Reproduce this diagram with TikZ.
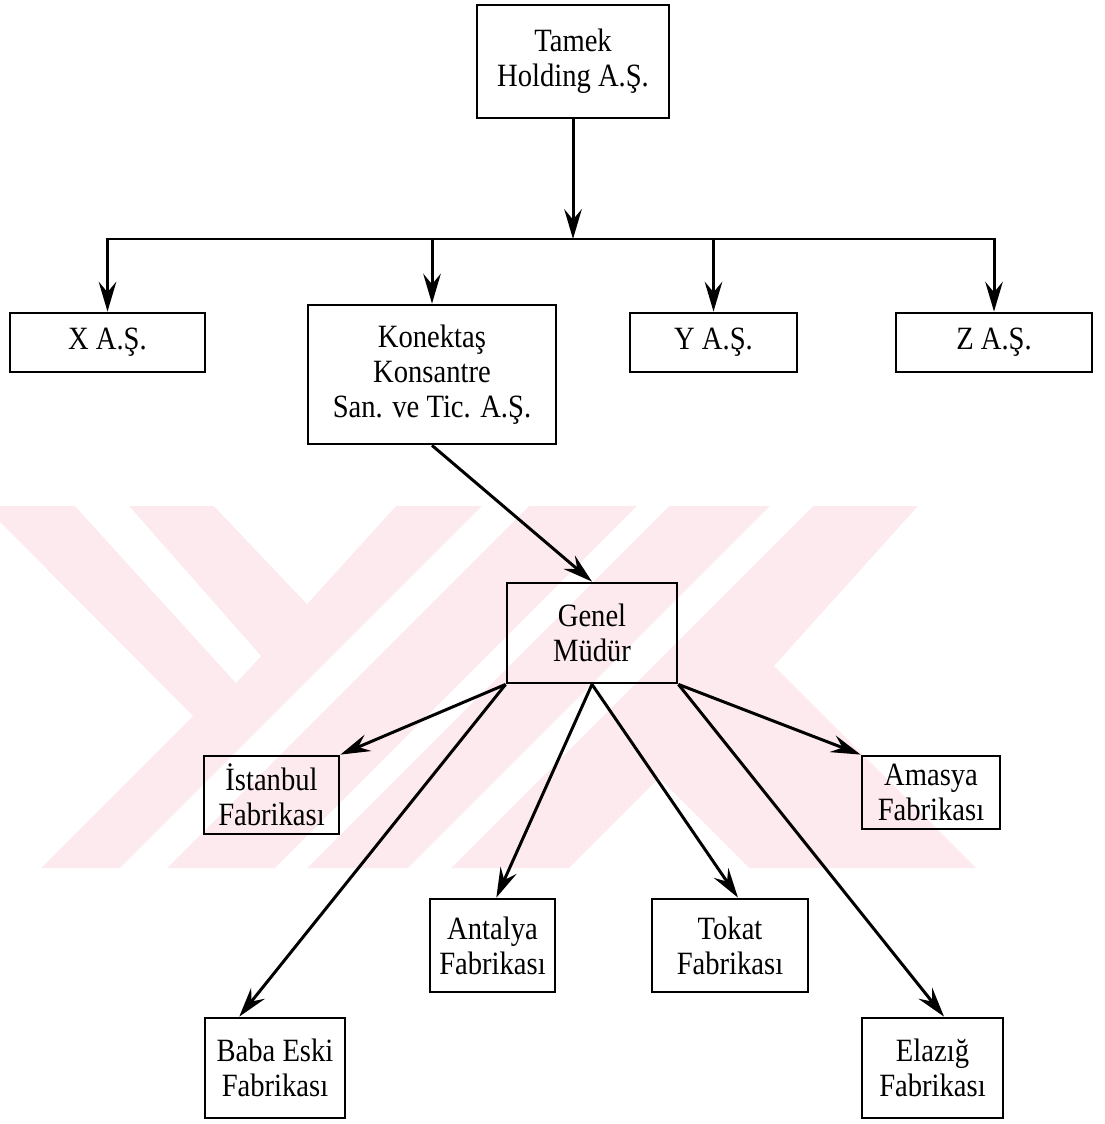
\documentclass[tikz,border=0pt]{standalone}
\usepackage{fontspec}
\setmainfont{Liberation Serif}[FakeStretch=0.88]
\usetikzlibrary{arrows.meta,calc}
\definecolor{wm}{RGB}{253,234,238}
\begin{document}
\begin{tikzpicture}[x=0.02cm,y=-0.02cm,
  box/.style={draw,line width=1.6pt,inner sep=0pt,align=center,font=\fontsize{18.5}{20}\selectfont},
  conn/.style={line width=1.7pt},
  arr/.style={conn,-{Stealth[length=17pt,width=10pt,inset=6pt]}}]
\useasboundingbox (0,0) rectangle (1104,1124);
% watermark
\fill[wm] (0,506) -- (918,506) -- (774,666) -- (976,868) -- (41,868) -- (193,716) -- (0,522) -- cycle;
\fill[white] (75,506) -- (129,506) -- (261,656) -- (236,683) -- cycle;
\fill[white] (214,506) -- (396,506) -- (307,604) -- cycle;
\fill[white] (482,506) -- (529,506) -- (165,870) -- (118,870) -- cycle;
\fill[white] (637,506) -- (669,506) -- (307,868) -- (275,868) -- cycle;
\fill[white] (770,506) -- (813,506) -- (451,868) -- (408,868) -- cycle;
\fill[white] (569,868) -- (659,778) -- (749,868) -- cycle;
% boxes
\node[box,minimum width=3.84cm,minimum height=2.26cm] (tamek) at (573,61.5) {Tamek\\Holding A.Ş.};
\node[box,minimum width=3.9cm,minimum height=1.18cm] (xas) at (107.5,342.5) {X A.Ş.};
\node[box,minimum width=4.96cm,minimum height=2.78cm] (kon) at (432,374.5) {Konektaş\\Konsantre\\San. ve Tic. A.Ş.};
\node[box,minimum width=3.34cm,minimum height=1.18cm] (yas) at (713.5,342.5) {Y A.Ş.};
\node[box,minimum width=3.92cm,minimum height=1.18cm] (zas) at (994,342.5) {Z A.Ş.};
\node[box,minimum width=3.4cm,minimum height=2.0cm] (gm) at (592,633) {Genel\\Müdür};
\node[box,minimum width=2.7cm,minimum height=1.56cm] (ist) at (271.5,795) {İstanbul\\Fabrikası};
\node[box,minimum width=2.76cm,minimum height=1.46cm] (ama) at (931,792.5) {Amasya\\Fabrikası};
\node[box,minimum width=2.5cm,minimum height=1.86cm] (ant) at (492.5,945.5) {Antalya\\Fabrikası};
\node[box,minimum width=3.12cm,minimum height=1.86cm] (tok) at (730,945.5) {Tokat\\Fabrikası};
\node[box,minimum width=2.8cm,minimum height=2.0cm] (baba) at (275,1068) {Baba Eski\\Fabrikası};
\node[box,minimum width=2.82cm,minimum height=2.0cm] (ela) at (932.5,1068) {Elazığ\\Fabrikası};
% connectors
\coordinate (bm) at (573,239);
\draw[arr] (tamek.south) -- (bm);
\draw[conn,line cap=rect] (xas.north |- bm) -- (zas.north |- bm);
\draw[arr] (xas.north |- bm) -- (xas.north);
\draw[arr] (kon.north |- bm) -- (kon.north);
\draw[arr] (yas.north |- bm) -- (yas.north);
\draw[arr] (zas.north |- bm) -- (zas.north);
\draw[arr] (kon.south) -- (gm.north);
\draw[arr] (gm.south west) -- (ist.north east);
\draw[arr] (gm.south west) -- ($(baba.north west)!0.25!(baba.north east)$);
\draw[arr] (gm.south) -- ($(ant.north west)!0.53!(ant.north east)$);
\draw[arr] (gm.south) -- ($(tok.north west)!0.55!(tok.north east)$);
\draw[arr] (gm.south east) -- (ama.north west);
\draw[arr] (gm.south east) -- ($(ela.north west)!0.58!(ela.north east)$);
\end{tikzpicture}
\end{document}
